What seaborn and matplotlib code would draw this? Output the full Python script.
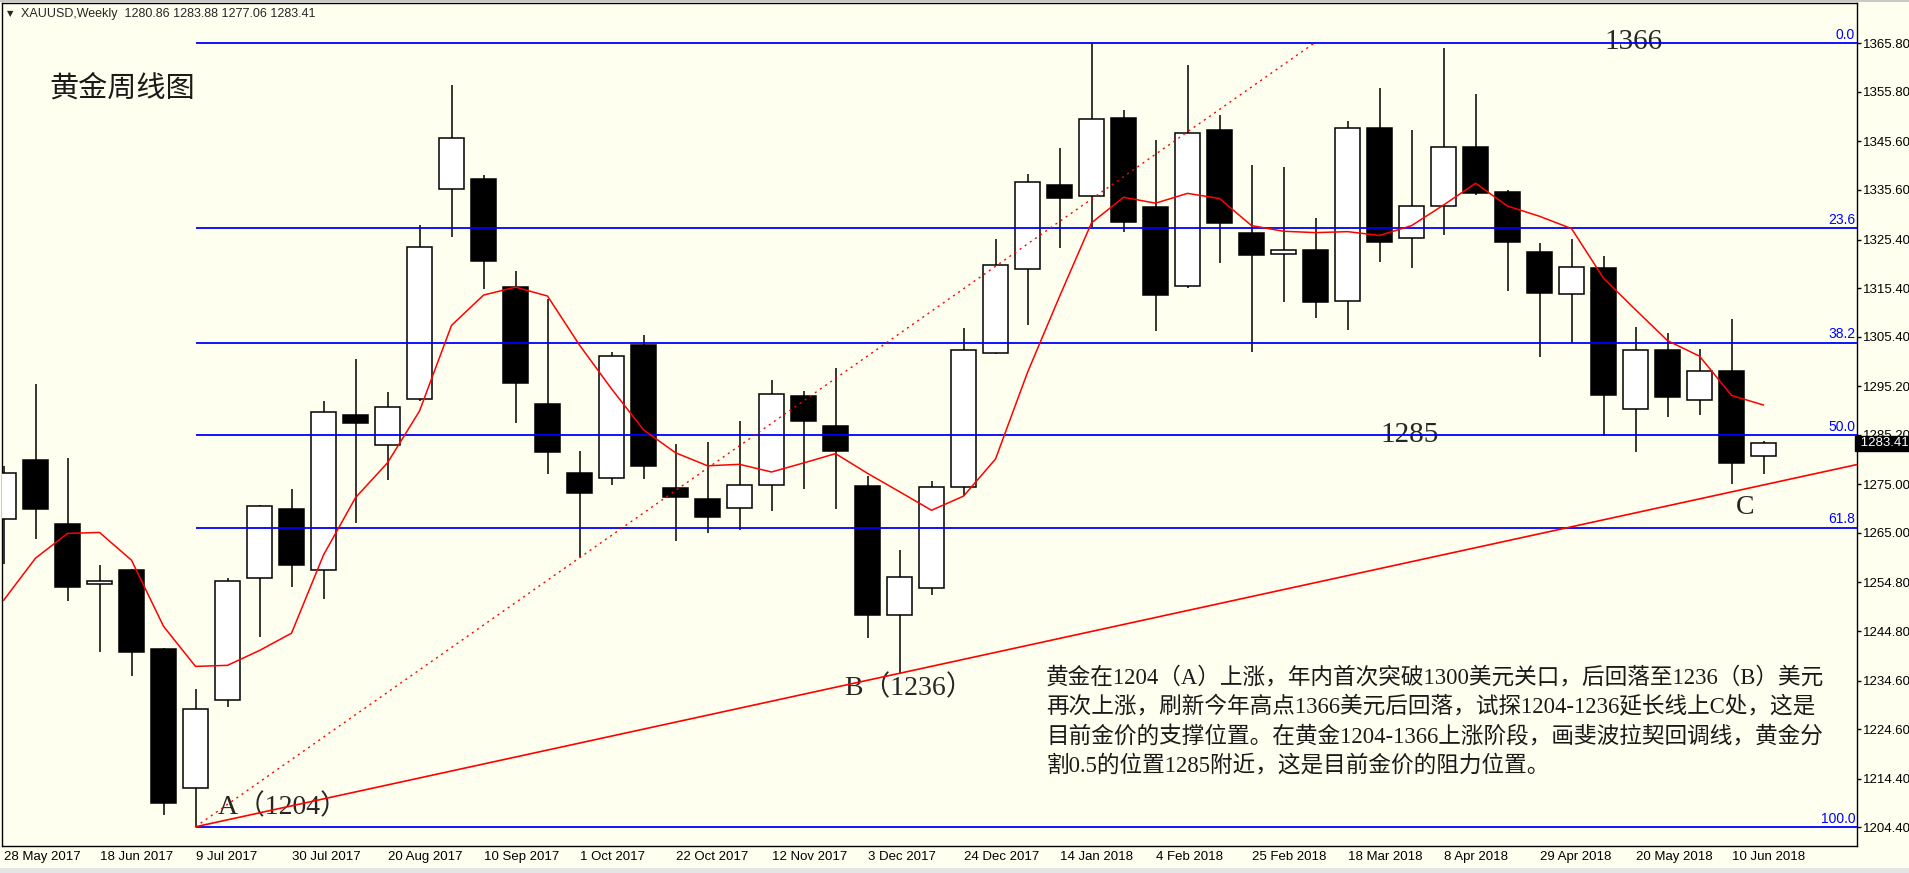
import numpy as np
import pandas as pd
import matplotlib
matplotlib.use("Agg")
import matplotlib.pyplot as plt
import matplotlib.transforms as mtransforms
from matplotlib.patches import Rectangle
import seaborn as sns

# weekly XAUUSD candles, first week 28 May 2017
first_week = "2017-05-28"
open_ = [1267.8, 1280.0, 1266.8, 1254.5, 1257.4, 1241.2, 1212.4, 1230.7, 1255.7, 1269.9,
         1257.3, 1289.2, 1283.0, 1292.6, 1335.7, 1337.9, 1315.6, 1291.5, 1277.3, 1276.4,
         1303.7, 1274.3, 1272.0, 1270.1, 1274.8, 1293.2, 1287.0, 1274.7, 1248.2, 1253.6,
         1274.4, 1302.0, 1319.3, 1336.6, 1334.3, 1350.4, 1332.1, 1315.8, 1348.0, 1326.7,
         1322.4, 1323.2, 1312.7, 1348.4, 1325.7, 1332.4, 1344.5, 1335.2, 1322.8, 1314.1,
         1319.5, 1290.5, 1302.7, 1292.3, 1298.3, 1280.86]
high = [1278.8, 1295.7, 1280.4, 1258.4, 1257.6, 1241.4, 1232.9, 1255.7, 1270.7, 1274.0,
        1292.2, 1300.8, 1294.0, 1328.4, 1357.2, 1338.7, 1318.9, 1313.2, 1281.9, 1302.2,
        1305.7, 1283.3, 1283.7, 1288.0, 1296.5, 1294.2, 1299.0, 1276.7, 1261.5, 1275.7,
        1307.2, 1325.5, 1338.9, 1344.2, 1365.8, 1352.1, 1345.9, 1361.3, 1351.0, 1340.7,
        1340.3, 1329.8, 1349.8, 1356.6, 1348.0, 1364.8, 1355.4, 1335.6, 1324.7, 1325.5,
        1322.0, 1307.4, 1306.2, 1302.9, 1309.0, 1283.88]
low = [1258.7, 1263.8, 1251.0, 1240.5, 1235.6, 1207.0, 1204.5, 1229.2, 1243.6, 1253.9,
       1251.3, 1267.1, 1275.8, 1292.2, 1326.0, 1315.3, 1287.7, 1277.2, 1260.1, 1274.9,
       1276.2, 1263.4, 1265.0, 1265.7, 1269.6, 1274.1, 1270.0, 1243.4, 1236.1, 1252.3,
       1272.7, 1301.8, 1307.9, 1323.7, 1328.0, 1327.0, 1306.6, 1315.5, 1320.6, 1302.3,
       1312.6, 1309.3, 1306.8, 1320.8, 1319.6, 1326.4, 1334.6, 1314.8, 1301.3, 1304.0,
       1285.0, 1281.7, 1288.9, 1289.3, 1275.1, 1277.06]
close = [1277.3, 1270.0, 1253.9, 1255.2, 1240.5, 1209.3, 1228.7, 1255.0, 1270.5, 1258.3,
         1289.8, 1287.7, 1290.9, 1323.8, 1346.4, 1321.0, 1295.9, 1281.7, 1273.3, 1301.4,
         1278.8, 1272.3, 1268.3, 1274.8, 1293.5, 1288.1, 1281.9, 1248.0, 1255.9, 1274.4,
         1302.7, 1320.1, 1337.2, 1334.0, 1350.2, 1329.0, 1314.0, 1347.3, 1328.7, 1322.3,
         1323.2, 1312.6, 1348.3, 1324.8, 1332.4, 1344.4, 1335.0, 1324.8, 1314.3, 1319.7,
         1293.3, 1302.6, 1293.0, 1298.3, 1279.3, 1283.41]
# closes of the four weeks before the first visible candle (for the 5-week MA)
prior_close = [1226.5, 1228.4, 1254.2, 1269.1]

# fibonacci retracement of the 1204-1366 rise
fib_high = 1365.8
fib_low = 1204.4
fib_ratios = [0.0, 23.6, 38.2, 50.0, 61.8, 100.0]
fib_start_week = 6

# trend lines (week index, price)
point_a = (6, 1204.5)
point_b = (28, 1236.1)
dotted_end = (40.95, 1365.8)

y_ticks = [1365.80, 1355.80, 1345.60, 1335.60, 1325.40, 1315.40, 1305.40, 1295.20, 1285.20,
           1275.00, 1265.00, 1254.80, 1244.80, 1234.60, 1224.60, 1214.40, 1204.40]

header = "XAUUSD,Weekly  1280.86 1283.88 1277.06 1283.41"
title = "黄金周线图"
note_lines = [
    "黄金在1204（A）上涨，年内首次突破1300美元关口，后回落至1236（B）美元",
    "再次上涨，刷新今年高点1366美元后回落，试探1204-1236延长线上C处，这是",
    "目前金价的支撑位置。在黄金1204-1366上涨阶段，画斐波拉契回调线，黄金分",
    "割0.5的位置1285附近，这是目前金价的阻力位置。",
]

df = pd.DataFrame({"open": open_, "high": high, "low": low, "close": close})
df["k"] = np.arange(len(df))
df["week"] = pd.date_range(first_week, periods=len(df), freq="7D")
df["ma5"] = pd.Series(prior_close + close).rolling(5).mean().iloc[len(prior_close):].values

sns.set_style("white")
plt.rcParams["font.family"] = ["Liberation Sans", "DejaVu Sans"]
serif_cjk = ["Liberation Serif", "Noto Sans CJK SC"]

bg = "#FFFFF0"
fig = plt.figure(figsize=(19.09, 8.73), dpi=100)
fig.patch.set_facecolor(bg)
ax = fig.add_axes([2.3 / 1909, 27.3 / 873, 1854.4 / 1909, 842.7 / 873])
ax.set_facecolor(bg)

xmin, xmax = -0.0375, 57.91
ymin, ymax = 1200.61, 1374.09

# candles
up = df[df.close >= df.open]
dn = df[df.close < df.open]
ax.vlines(df.k, df.low, df.high, color="black", lw=1.1, zorder=3)
ax.bar(up.k, up.close - up.open, bottom=up.open, width=0.78,
       facecolor="white", edgecolor="black", lw=1.1, zorder=4)
ax.bar(dn.k, dn.open - dn.close, bottom=dn.close, width=0.78,
       facecolor="black", edgecolor="black", lw=1.1, zorder=4)

# 5 week moving average
sns.lineplot(data=df, x="k", y="ma5", ax=ax, color="red", lw=1.1, zorder=6)

# fibonacci levels
blend = mtransforms.blended_transform_factory(ax.transAxes, ax.transData)
for r in fib_ratios:
    level = fib_high - (fib_high - fib_low) * r / 100
    ax.hlines(level, fib_start_week, xmax, color="#0000FF", lw=1.3, zorder=5)
    ax.text(0.9992, level + 0.3, f"{r:.1f}", transform=blend, ha="right", va="bottom",
            color="#0000FF", fontsize=10, zorder=7)

# trend lines
slope = (point_b[1] - point_a[1]) / (point_b[0] - point_a[0])
ax.plot([point_a[0], xmax], [point_a[1], point_a[1] + slope * (xmax - point_a[0])],
        color="red", lw=1.2, zorder=6)
ax.plot([point_a[0], dotted_end[0]], [point_a[1], dotted_end[1]],
        color="red", lw=1.0, ls=(0, (1.5, 3)), zorder=6)

# axes
ax.set_xlim(xmin, xmax)
ax.set_ylim(ymin, ymax)
ax.yaxis.tick_right()
ax.set_yticks(y_ticks)
ax.set_yticklabels([f"{v:.2f}" for v in y_ticks])
xt = df.iloc[::3]
ax.set_xticks(xt.k)
ax.set_xticklabels([f"{d.day} {d:%b %Y}" for d in xt.week])
for lbl in ax.get_xticklabels():
    lbl.set_ha("left")
ax.tick_params(axis="both", direction="out", length=3, width=1, colors="black",
               labelsize=9.5, pad=1.5)
ax.tick_params(axis="x", pad=1)
ax.set_xlabel("")
ax.set_ylabel("")
for s in ax.spines.values():
    s.set_color("black")
    s.set_linewidth(1)

# texts
ax.text(0.0044, 0.987, "▼", transform=ax.transAxes, fontsize=6, va="center", ha="center",
        family="DejaVu Sans")
ax.text(0.0101, 0.987, header, transform=ax.transAxes, fontsize=9, va="center", ha="left")
ax.text(1.42, 1356.4, title, fontsize=21, va="center", ha="left", color="#1a1a1a",
        family=["Noto Sans CJK SC"], fontweight="light")
ax.text(50.95, 1366.06, "1366", fontsize=21, va="center", ha="center", family=serif_cjk)
ax.text(43.95, 1285.06, "1285", fontsize=21, va="center", ha="center", family=serif_cjk)
ax.text(54.42, 1270.33, "C", fontsize=20, va="center", ha="center", family=serif_cjk)
ax.text(6.70, 1208.47, "A（1204）", fontsize=20, va="center", ha="left", family=serif_cjk)
ax.text(26.27, 1232.97, "B（1236）", fontsize=20, va="center", ha="left", family=serif_cjk)
for i, line in enumerate(note_lines):
    ax.text(32.58, 1235.13 - i * 6.0, line, fontsize=16.3, va="center", ha="left",
            color="#1a1a1a", family=serif_cjk)

# current price tag on the price scale
ax.text(1.0, close[-1], f" {close[-1]:.2f}", transform=blend, fontsize=9.5, va="center",
        ha="left", color="white", zorder=10, clip_on=False,
        bbox=dict(boxstyle="square,pad=0.15", facecolor="black", edgecolor="black"))

fig.add_artist(Rectangle((0, 0), 1, 5 / 873, transform=fig.transFigure,
                         facecolor="#E4E4E4", edgecolor="none"))
fig.add_artist(Rectangle((0, 1 - 2 / 873), 1, 2 / 873, transform=fig.transFigure,
                         facecolor="#C8C8C8", edgecolor="none"))

plt.savefig("out.png", dpi=100, facecolor=bg)
